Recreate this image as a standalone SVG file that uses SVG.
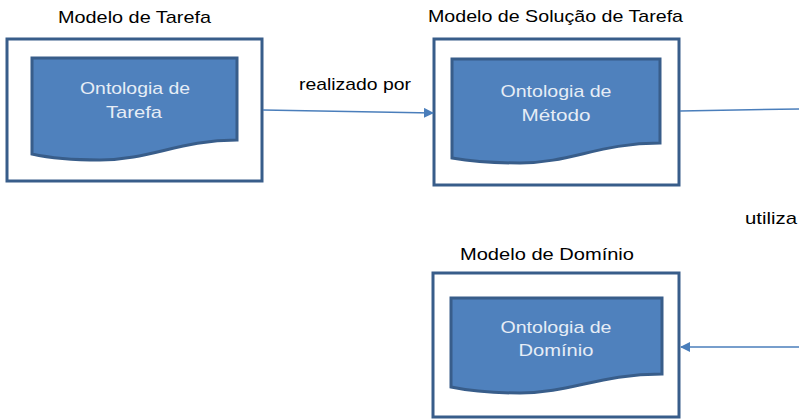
<svg xmlns="http://www.w3.org/2000/svg" width="799" height="419" viewBox="0 0 799 419">
<style>
.outer{fill:#fff;stroke:#385D8A;stroke-width:3}
.doc{fill:#4F81BD;stroke:#385D8A;stroke-width:3}
.lbl{font-family:"Liberation Sans",Arial,sans-serif;font-size:17px;fill:#000}
.in{font-family:"Liberation Sans",Arial,sans-serif;font-size:17px;fill:#E6EDF6;text-anchor:middle}
.conn{stroke:#4A7EBB;stroke-width:1.5;fill:none}
</style>
<defs>
<marker id="ah" markerWidth="10" markerHeight="10" refX="9" refY="5" orient="auto" markerUnits="userSpaceOnUse">
<path d="M0,0 L10,5 L0,10 Z" fill="#4A7EBB"/>
</marker>
</defs>
<g id="modelo-tarefa">
<text class="lbl" x="58" y="23" textLength="153" lengthAdjust="spacingAndGlyphs">Modelo de Tarefa</text>
<rect class="outer" x="7" y="39" width="255" height="142"/>
<path class="doc" d="M32,58 H237 V140 C180,140 150,160 100,160 C70,160 50,158 32,154 Z"/>
<text class="in" x="135" y="94" textLength="110" lengthAdjust="spacingAndGlyphs">Ontologia de</text>
<text class="in" x="134" y="118" textLength="56" lengthAdjust="spacingAndGlyphs">Tarefa</text>
</g>
<g id="modelo-solucao">
<text class="lbl" x="428" y="22" textLength="255" lengthAdjust="spacingAndGlyphs">Modelo de Solução de Tarefa</text>
<rect class="outer" x="434" y="39" width="245" height="146"/>
<path class="doc" d="M452,59 H660 V143 C600,143 570,163 520,163 C490,163 470,161 452,158 Z"/>
<text class="in" x="556" y="97" textLength="111" lengthAdjust="spacingAndGlyphs">Ontologia de</text>
<text class="in" x="556" y="121" textLength="69" lengthAdjust="spacingAndGlyphs">Método</text>
</g>
<g id="modelo-dominio">
<text class="lbl" x="460" y="260" textLength="174" lengthAdjust="spacingAndGlyphs">Modelo de Domínio</text>
<rect class="outer" x="433" y="273" width="246" height="144"/>
<path class="doc" d="M451,298 H662 V374 C600,374 570,393 520,393 C490,393 470,391 451,387 Z"/>
<text class="in" x="556" y="333" textLength="111" lengthAdjust="spacingAndGlyphs">Ontologia de</text>
<text class="in" x="556" y="356" textLength="75" lengthAdjust="spacingAndGlyphs">Domínio</text>
</g>
<g id="connectors">
<path class="conn" d="M263,110 L433,113" marker-end="url(#ah)"/>
<text class="lbl" x="299" y="90" textLength="112" lengthAdjust="spacingAndGlyphs">realizado por</text>
<path class="conn" d="M680,111 L799,109"/>
<text class="lbl" x="745" y="224" textLength="52" lengthAdjust="spacingAndGlyphs">utiliza</text>
<path class="conn" d="M799,347 L681,347" marker-end="url(#ah)"/>
</g>
</svg>
